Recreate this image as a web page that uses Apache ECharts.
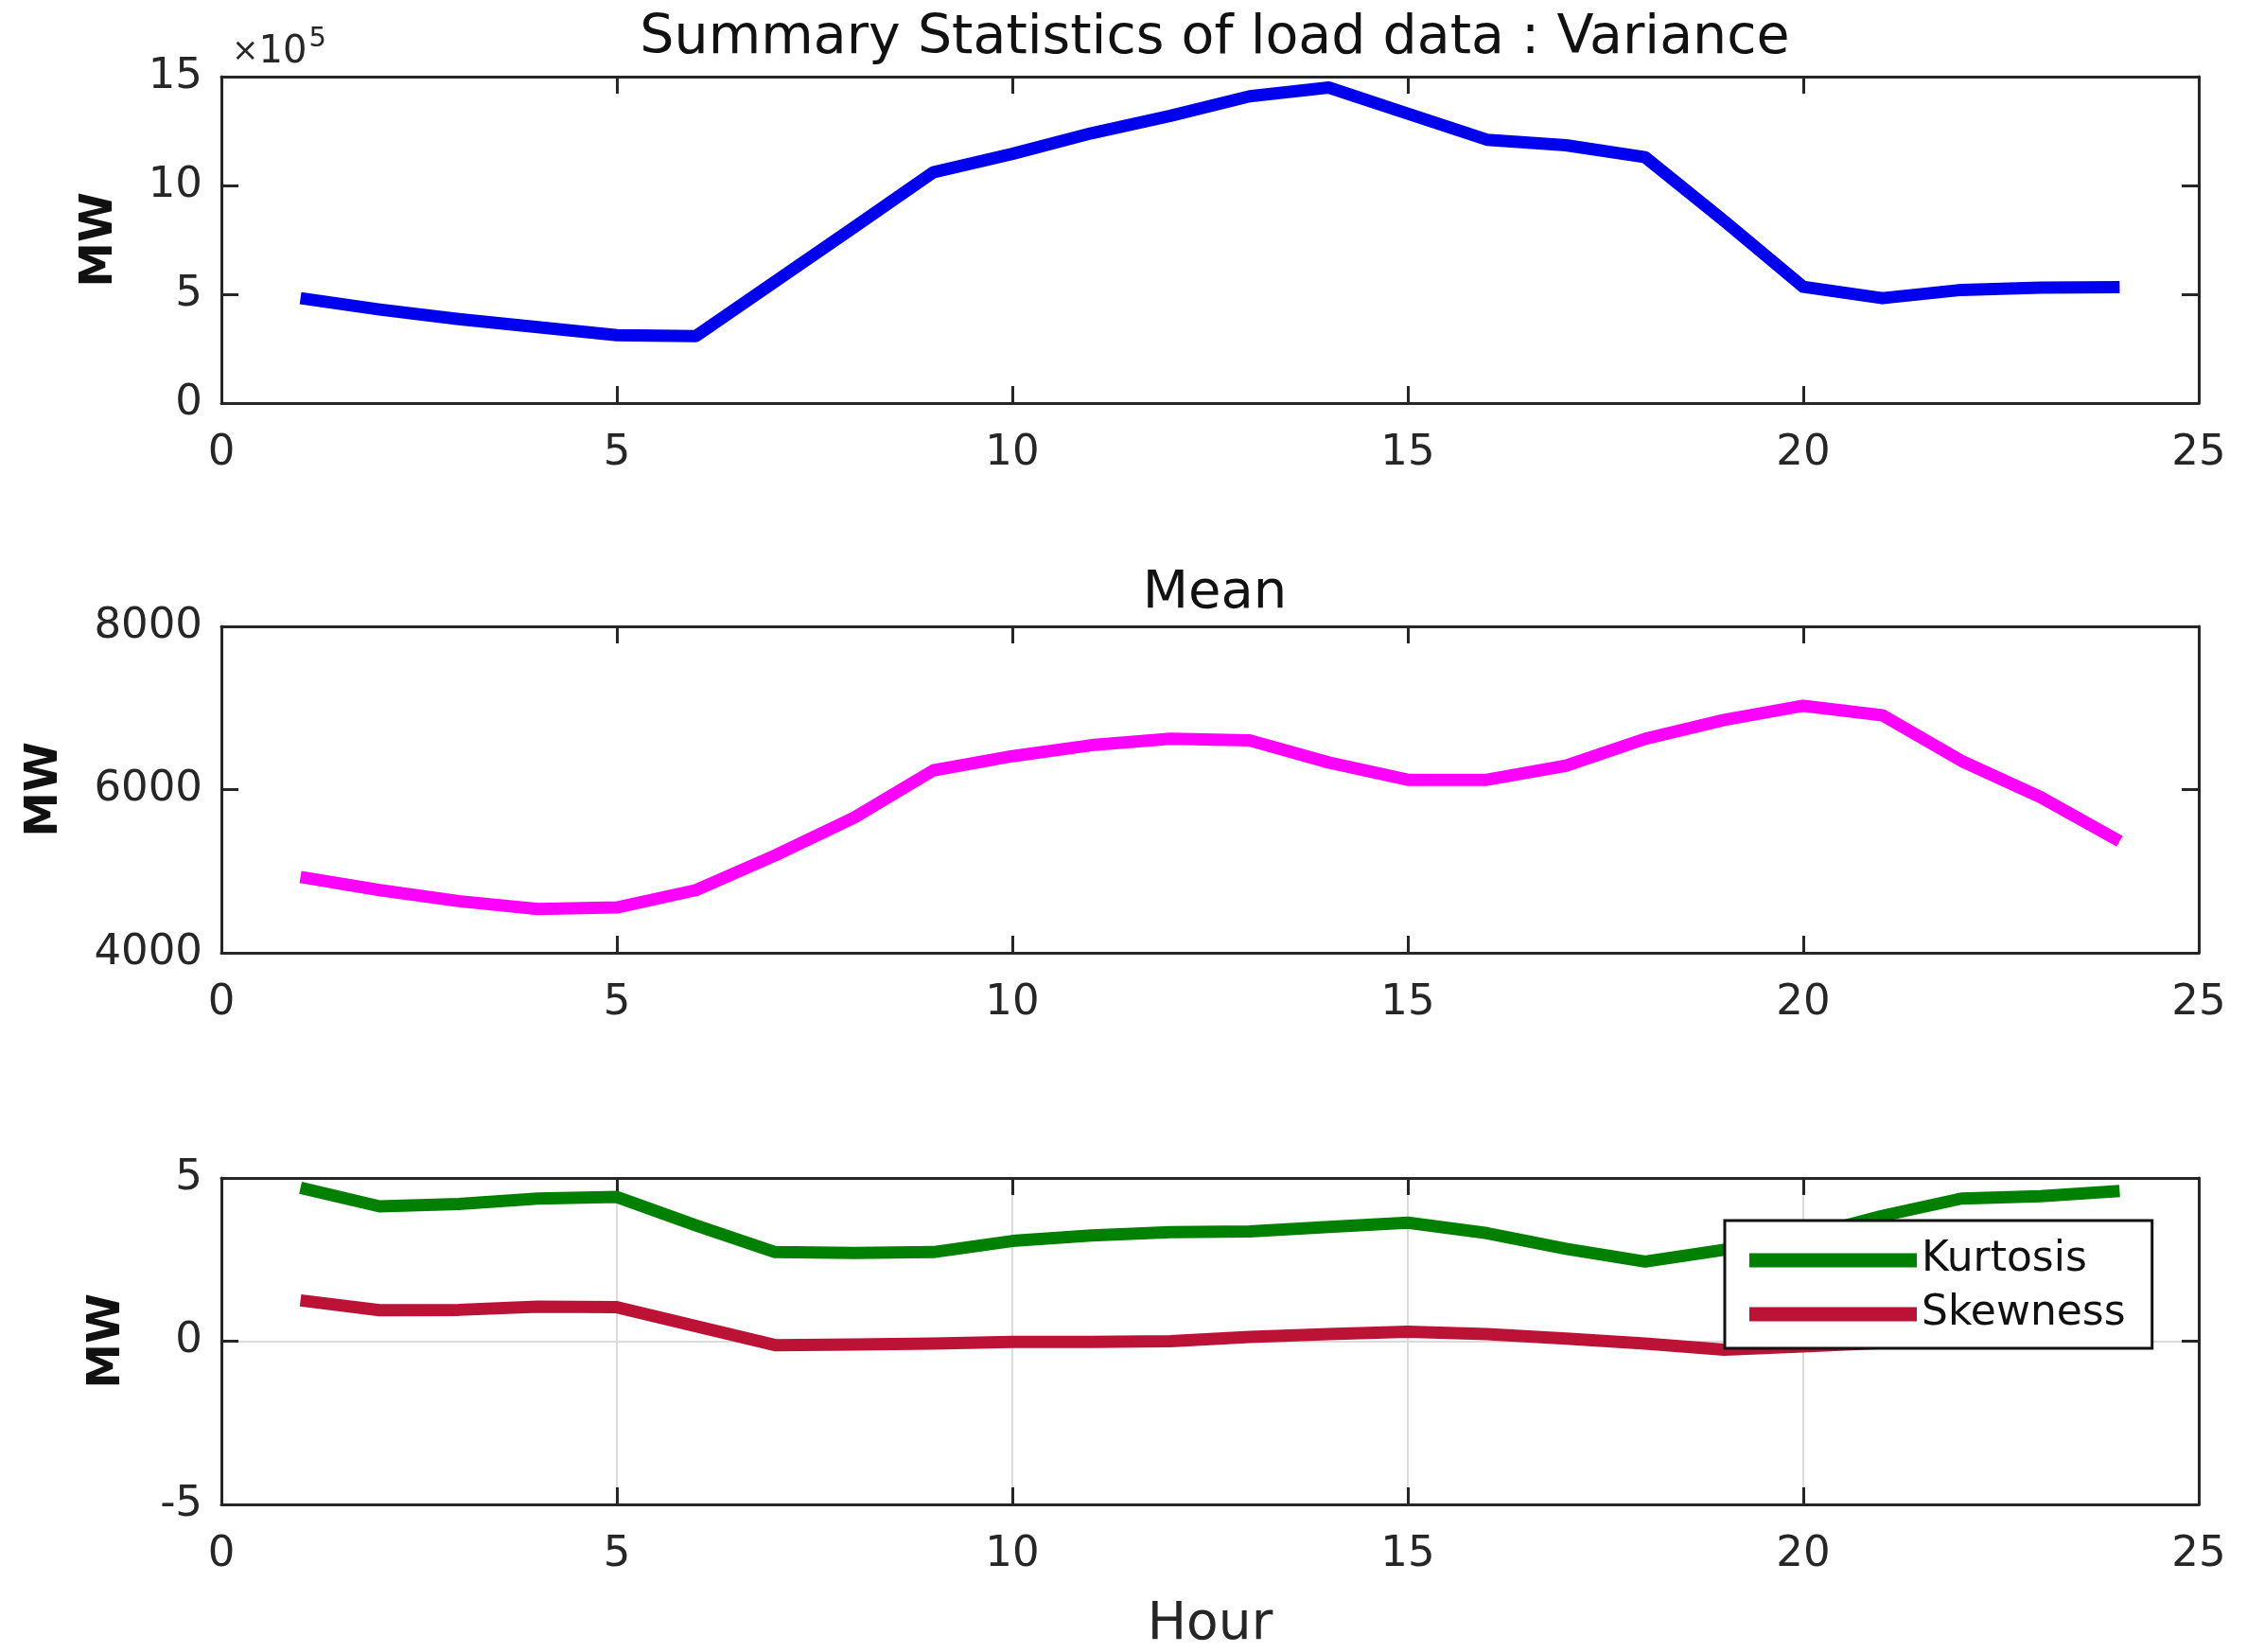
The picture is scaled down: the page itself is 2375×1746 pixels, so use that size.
<!DOCTYPE html>
<html>
<head>
<meta charset="utf-8">
<script src="https://cdn.jsdelivr.net/npm/echarts@6/dist/echarts.min.js"></script>
<style>
  html, body { margin: 0; padding: 0; background: #fff; }
  #chart { width: 2375px; height: 1746px; }
</style>
</head>
<body>
<div id="chart"></div>
<script>
var chartDom = document.getElementById('chart');
var myChart = echarts.init(chartDom);

// hour of day
const hours = [1, 2, 3, 4, 5, 6, 7, 8, 9, 10, 11, 12, 13, 14, 15, 16, 17, 18, 19, 20, 21, 22, 23, 24];
// variance in MW^2
const variance = [482000, 430000, 386000, 349000, 312000, 308000, 558000, 808000, 1060000, 1145000, 1240000, 1320000,
                  1410000, 1450000, 1330000, 1210000, 1185000, 1130000, 837000, 534000, 482000, 520000, 530000, 533000];
const mean = [4930, 4768, 4633, 4537, 4556, 4768, 5193, 5656, 6235, 6409, 6544, 6622,
              6602, 6332, 6120, 6120, 6293, 6622, 6853, 7027, 6911, 6351, 5907, 5367];
const kurtosis = [4.7, 4.13, 4.2, 4.37, 4.42, 3.55, 2.73, 2.7, 2.73, 3.07, 3.24, 3.34,
                  3.36, 3.5, 3.63, 3.31, 2.83, 2.44, 2.8, 3.2, 3.84, 4.37, 4.44, 4.6];
const skewness = [1.25, 0.95, 0.96, 1.06, 1.04, 0.46, -0.12, -0.1, -0.07, -0.02, -0.02, 0.0,
                  0.13, 0.22, 0.29, 0.22, 0.08, -0.07, -0.26, -0.16, -0.05, 0.05, 0.1, 0.15];

const xTicks = { min: 0, max: 25, interval: 5 };
const yRanges = [
    { min: 0, max: 1500000, interval: 500000 },
    { min: 4000, max: 8000, interval: 2000 },
    { min: -5, max: 5, interval: 5 }
];
const mwGaps = [104, 162, 96];

const FONT = 'DejaVu Sans';
const AX = '#262626';

function pairs(ys) {
    return hours.map(function (h, i) { return [h, ys[i]]; });
}

var grids = [81, 662, 1245].map(function (t) {
    return { left: 234, width: 2090, top: t, height: 345, outerBoundsMode: 'none', containLabel: false };
});

var xAxes = [];
var yAxes = [];
grids.forEach(function (g, i) {
    var line = { show: true, onZero: false, lineStyle: { color: AX, width: 3 } };
    var tick = { show: true, inside: true, length: 18, lineStyle: { color: AX, width: 3 } };
    xAxes.push({
        gridIndex: i, type: 'value', position: 'bottom',
        min: xTicks.min, max: xTicks.max, interval: xTicks.interval,
        axisLine: line, axisTick: tick,
        axisLabel: { fontFamily: FONT, fontSize: 45, color: AX, margin: 31 },
        splitLine: { show: i === 2, lineStyle: { color: '#dcdcdc', width: 2 } },
        name: i === 2 ? 'Hour' : '',
        nameLocation: 'middle', nameGap: 128,
        nameTextStyle: { fontFamily: FONT, fontSize: 55, color: AX, verticalAlign: 'middle' }
    });
    xAxes.push({
        gridIndex: i, type: 'value', position: 'top',
        min: xTicks.min, max: xTicks.max, interval: xTicks.interval,
        axisLine: line, axisTick: tick,
        axisLabel: { show: false }, splitLine: { show: false }
    });
    var r = yRanges[i];
    yAxes.push({
        gridIndex: i, type: 'value', position: 'left',
        min: r.min, max: r.max, interval: r.interval,
        axisLine: line, axisTick: tick,
        axisLabel: {
            fontFamily: FONT, fontSize: 45, color: AX, margin: 20,
            formatter: function (v) { return i === 0 ? String(v / 100000) : String(v); }
        },
        splitLine: { show: i === 2, lineStyle: { color: '#dcdcdc', width: 2 } },
        name: 'MW', nameLocation: 'middle', nameGap: mwGaps[i],
        nameTextStyle: { fontFamily: FONT, fontSize: 48, fontWeight: 'bold', color: '#111' }
    });
    yAxes.push({
        gridIndex: i, type: 'value', position: 'right',
        min: r.min, max: r.max, interval: r.interval,
        axisLine: line, axisTick: tick,
        axisLabel: { show: false }, splitLine: { show: false }
    });
});

function lineSeries(name, ys, gi, color) {
    return {
        name: name, type: 'line',
        xAxisIndex: gi * 2, yAxisIndex: gi * 2,
        data: pairs(ys),
        showSymbol: false, symbol: 'none',
        lineStyle: { color: color, width: 13, join: 'round', cap: 'butt' },
        itemStyle: { color: color },
        animation: false
    };
}

let option = {
    backgroundColor: '#fff',
    animation: false,
    title: [
        {
            text: 'Summary Statistics of load data : Variance',
            left: 1279, top: 8, textAlign: 'center',
            textStyle: { fontFamily: FONT, fontSize: 57, fontWeight: 'normal', color: '#111' }
        },
        {
            text: 'Mean',
            left: 1279, top: 594, textAlign: 'center',
            textStyle: { fontFamily: FONT, fontSize: 56, fontWeight: 'normal', color: '#111' }
        },
        {
            text: '{x|×}{a|10}{s|5}',
            left: 240, top: 22,
            textStyle: {
                fontWeight: 'normal',
                rich: {
                    x: { fontFamily: FONT, fontSize: 34, fontWeight: 'normal', color: AX },
                    a: { fontFamily: FONT, fontSize: 40, fontWeight: 'normal', color: AX },
                    s: { fontFamily: FONT, fontSize: 29, fontWeight: 'normal', color: AX, padding: [0, 0, 28, 2] }
                }
            }
        }
    ],
    grid: grids,
    xAxis: xAxes,
    yAxis: yAxes,
    legend: {
        data: ['Kurtosis', 'Skewness'],
        orient: 'vertical',
        left: 1823, top: 1290,
        padding: [18, 28, 12, 26],
        itemGap: 9,
        itemWidth: 177, itemHeight: 15,
        icon: 'rect',
        backgroundColor: '#fff',
        borderColor: '#111', borderWidth: 3,
        textStyle: { fontFamily: FONT, fontSize: 44, color: '#111', lineHeight: 48 }
    },
    series: [
        lineSeries('Variance', variance, 0, '#0000ee'),
        lineSeries('Mean', mean, 1, '#ff00ff'),
        lineSeries('Kurtosis', kurtosis, 2, '#008000'),
        lineSeries('Skewness', skewness, 2, '#bb1236')
    ]
};

option && myChart.setOption(option);
</script>
</body>
</html>
